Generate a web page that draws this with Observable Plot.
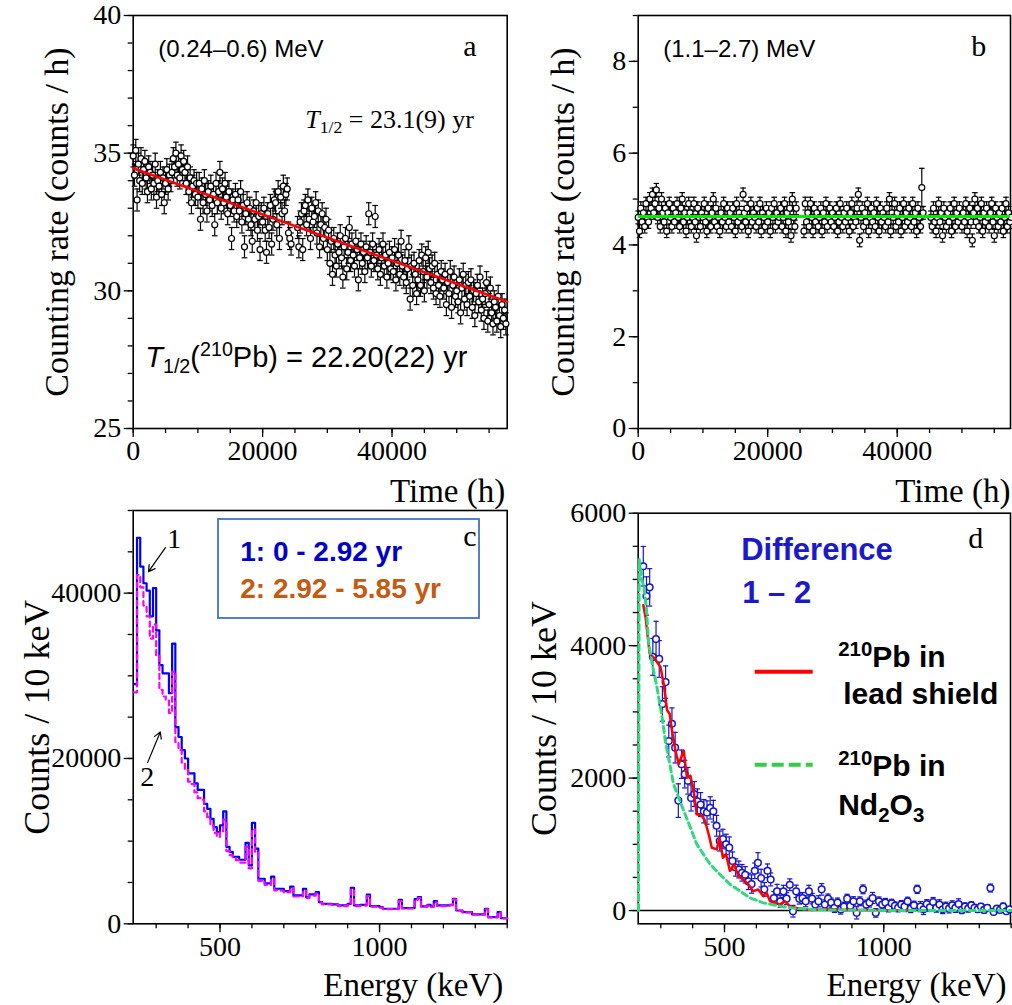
<!DOCTYPE html>
<html><head><meta charset="utf-8">
<script src="https://cdn.jsdelivr.net/npm/d3@7"></script>
<script src="https://cdn.jsdelivr.net/npm/@observablehq/plot@0.6"></script>
<style>
html,body{margin:0;padding:0;background:#fff;}
#fig{position:relative;width:1012px;height:1005px;overflow:hidden;background:#fff;}
</style></head><body><div id="fig"></div>
<script>
// ---------------- DATA ----------------
// Panel a: counting rate (0.24–0.6 MeV), 200 h bins
const aTimeStep = 200;
const aRate = [
34.9,34.2,35.1,33.3,34.6,34.0,34.8,33.9,34.4,34.7,
34.1,33.6,34.5,34.3,33.7,34.2,33.9,34.6,33.4,34.0,
33.8,34.3,33.5,34.1,33.2,33.9,34.4,33.7,34.2,34.0,
34.3,34.8,34.5,35.0,34.2,34.6,34.1,34.9,34.4,34.7,
34.3,33.9,34.5,33.6,34.1,33.2,33.8,34.0,33.5,33.9,
33.4,33.9,32.6,33.7,33.2,34.0,33.5,32.9,33.6,33.3,
33.8,33.1,33.5,32.4,33.9,33.2,33.6,34.3,33.0,33.7,
33.2,33.9,33.4,32.8,33.6,33.1,31.9,33.3,32.9,33.5,
32.7,33.3,32.9,33.6,32.5,33.1,31.6,32.8,33.2,32.6,
33.0,32.4,31.8,32.9,32.6,33.2,32.2,32.7,31.5,32.8,
32.5,33.0,32.2,31.4,32.8,32.3,33.1,31.7,32.6,33.3,
33.2,32.4,33.6,31.9,33.4,32.8,33.8,32.9,33.5,33.7,
32.1,31.9,31.7,null,null,null,null,32.3,31.6,32.5,
32.8,31.5,32.9,33.1,32.4,33.3,32.6,31.9,33.0,32.5,
32.7,33.2,32.1,32.9,31.6,32.4,32.8,31.9,32.3,32.6,
31.5,32.2,31.0,31.8,30.6,31.9,31.3,30.9,31.7,31.4,
32.0,31.2,30.5,31.6,31.9,30.8,31.4,32.3,31.1,31.7,
31.3,30.9,31.8,31.5,30.4,31.2,31.7,31.0,31.4,30.7,
31.6,31.2,32.8,31.4,30.9,31.7,31.1,32.7,31.3,30.8,
31.5,30.6,31.2,31.7,30.9,31.3,30.5,31.0,31.4,30.8,
31.2,30.7,31.5,30.4,31.0,31.3,30.6,31.8,30.9,30.5,
31.1,30.3,30.8,31.6,29.7,30.9,30.2,31.0,30.6,29.9,
30.4,31.1,30.2,31.3,30.7,30.0,31.2,30.5,31.4,30.8,
30.3,30.9,30.1,31.0,29.9,30.6,30.2,29.8,30.7,30.4,
30.1,30.6,29.5,30.3,29.9,30.7,29.4,30.2,30.5,29.8,
30.0,29.6,30.4,29.2,30.1,30.6,29.7,30.2,29.5,30.3,
29.8,30.4,29.4,30.0,29.1,29.9,30.2,29.6,30.5,29.3,
29.7,29.0,29.9,30.3,28.9,29.5,30.1,29.2,28.8,29.6,
29.4,28.9,29.8,29.1,28.7,29.5,29.0,29.3,28.8
];
const aError = 0.4;
const aFit = [[0, 34.45], [57800, 29.6]];

// Panel b: counting rate (1.1–2.7 MeV), 200 h bins
const bTimeStep = 200;
const bRate = [
4.6,4.3,4.8,4.5,4.7,4.4,4.9,4.6,4.5,5.0,
4.8,5.1,4.7,4.9,5.2,4.6,4.8,4.4,5.0,4.7,
4.5,4.8,4.3,4.7,4.9,4.6,4.4,4.8,4.5,4.7,
4.9,4.6,4.4,4.8,5.0,4.5,4.7,4.3,4.6,4.9,
4.7,4.4,4.6,4.9,4.5,4.2,4.8,4.6,4.4,4.7,
4.6,4.9,4.5,4.3,4.8,4.6,4.4,4.7,5.0,4.5,
4.8,4.4,4.6,4.3,4.7,4.5,4.9,4.6,4.4,4.8,
4.5,4.7,4.4,4.8,4.6,4.3,4.9,4.5,4.7,4.6,
4.4,5.1,4.7,4.5,4.8,4.3,4.6,4.9,4.5,4.7,
4.6,4.4,4.8,4.5,4.9,4.3,4.7,4.6,4.4,4.8,
4.5,4.7,4.3,4.8,4.6,4.9,4.4,4.7,4.5,4.6,
4.8,4.4,4.6,4.9,4.3,4.7,4.5,4.8,4.2,5.0,
4.6,4.4,4.8,null,null,null,null,null,4.3,4.9,
4.5,4.7,4.4,4.9,4.6,4.3,4.8,4.5,4.7,4.4,
4.6,4.8,4.3,4.7,4.5,4.9,4.4,4.6,4.8,4.5,
4.7,4.4,4.6,4.8,4.3,4.5,4.9,4.6,4.4,4.7,
4.5,4.8,4.6,4.3,4.7,4.9,4.4,4.6,4.5,4.8,
5.1,4.1,4.6,4.8,4.4,4.7,4.5,4.9,4.3,4.6,
4.8,4.5,4.7,4.4,4.9,4.6,4.3,4.8,4.5,4.7,
4.6,4.4,4.8,4.5,5.0,4.3,4.7,4.6,4.9,4.4,
4.7,4.5,4.8,4.3,4.6,4.9,4.4,4.7,4.5,4.8,
4.6,4.4,4.9,4.5,4.7,4.3,4.8,4.6,4.4,null,
4.7,null,null,null,null,null,4.6,4.4,4.8,4.5,
4.3,4.6,4.9,4.5,4.7,4.2,4.8,4.6,4.4,4.7,
4.5,4.8,4.3,4.6,4.9,4.4,4.7,4.5,4.8,4.6,
4.4,4.7,4.5,4.9,4.3,4.6,4.8,4.5,4.1,4.7,
5.0,4.5,4.8,4.4,4.6,4.9,4.3,4.7,4.5,4.8,
4.6,4.4,4.7,4.9,4.5,4.2,4.8,4.6,4.4,4.7,
4.5,4.8,4.3,4.6,4.9,4.4,4.7,4.5,4.6
];
const bError = 0.14;
const bOutlier = [{t: 43800, v: 5.25, e: 0.42}];
const bFit = 4.62;

// Panel c: spectra, 10 keV bins starting at 230 keV
const cBinStart = 230, cBinWidth = 10;
const spec1 = [ // 0 - 2.92 yr
29000,46700,43200,41200,40300,37200,40600,35500,31300,30300,
30300,27900,33900,23800,22600,21000,20000,18200,18200,17000,
16200,16200,14500,13900,12700,11700,11100,11900,13600,9300,
8700,8100,8100,7750,7750,9800,7070,12200,9100,5450,
5450,4900,4900,5700,4240,4240,4240,3950,3950,4500,
3430,3430,3430,4240,3200,3550,3550,3840,2620,2420,
2420,2420,2350,2350,2220,2220,2220,2420,4360,2220,
2220,2280,2280,3520,2140,2140,2140,2010,1820,1820,
1820,1820,1820,2910,1900,1900,1900,1900,3000,3230,
2100,2100,2300,2100,2740,2220,2220,2220,2220,2300,
3030,1610,1610,1410,1410,1410,1130,1130,1130,1130,
1820,800,800,800,1410,680,680
];
const spec2 = [ // 2.92 - 5.85 yr
28000,42200,40700,38500,37200,34500,36200,32500,28300,27500,
27000,25500,30500,22000,21000,19500,18600,17200,16900,15900,
15200,15000,13600,12900,11900,11000,10500,11200,12600,8800,
8300,8000,7700,7400,7400,9300,6700,11400,8700,5200,
5200,4700,4700,5400,4050,4050,4000,3800,3800,4300,
3300,3300,3300,4000,3100,3400,3400,3650,2550,2350,
2350,2350,2300,2300,2150,2150,2150,2300,4150,2150,
2150,2200,2200,3350,2080,2080,2080,1950,1780,1780,
1780,1780,1780,2750,1850,1850,1850,1850,2900,3100,
2050,2050,2200,2050,2600,2150,2150,2150,2150,2250,
2950,1580,1580,1380,1380,1380,1100,1100,1100,1100,
1750,780,780,780,1350,660,660
];
const cArrows = [
  {x1: 329, y1: 45500, x2: 276, y2: 42600},
  {x1: 273, y1: 19500, x2: 313, y2: 23200}
];

// Panel d: difference spectrum 1 - 2 (same bins as panel c)
const diff = [
null,5200,4750,4880,3830,4100,3800,3120,3450,2560,
2820,2460,1660,2210,2060,1960,1700,1760,1650,1600,
1500,1480,1550,1500,1280,1050,1080,1000,950,750,
650,620,570,540,440,400,600,720,490,320,
600,470,190,290,140,290,180,390,-10,290,
180,190,140,290,180,90,140,320,90,180,
120,40,120,15,60,180,70,140,-35,140,
320,90,120,190,-35,140,90,120,40,110,
70,40,90,60,140,30,80,320,60,20,
100,50,130,40,90,20,60,30,80,40,
100,10,60,30,80,40,20,60,10,40,
340,-20,30,10,60,-10,20
];
// 210Pb in lead shield (simulated), [keV, counts]
const leadE = [245,252,265,276,288,299,309,320,328,335,346,356,366,372,382,393,403,413,429,439,453,460,476,484,495,505,517,530,544,559,575,590,606,622,632,643,658,674,689,705,726,747,773,830,882,934,1090];
const leadV = [4610,4434,3879,3828,3752,3677,3424,3020,2970,2717,2414,2212,2338,2414,2010,2035,1808,1454,1429,1353,1101,949,924,1101,798,848,596,697,520,470,394,293,318,217,268,141,116,91,141,66,40,25,10,25,10,10,0];
// 210Pb in Nd2O3 (simulated), [keV, counts]
const ndE = [230,232,240,247,255,262,273,288,304,314,328,340,356,372,393,413,434,455,486,518,549,580,622,674,726,778,882,1000,1400];
const ndV = [0,5300,5000,4890,4540,4030,3720,3370,2920,2570,2212,1909,1706,1505,1252,1000,848,697,545,394,293,191,116,66,30,15,5,2,0];

// ---------------- HELPERS ----------------
const SERIF = "'Liberation Serif','Times New Roman',serif";
const SANS = "'Liberation Sans',Arial,sans-serif";
const fig = document.getElementById("fig");
const capSym = {draw(ctx, size) { const r = Math.sqrt(size / Math.PI); ctx.moveTo(-r, 0); ctx.lineTo(r, 0); }};

function errBars(data, {x, y, e, color, capR = 2.8, sw = 1.2}) {
  return [
    Plot.ruleX(data, {x, y1: d => d[y] - e(d), y2: d => d[y] + e(d), stroke: color, strokeWidth: sw}),
    Plot.dot(data, {x, y: d => d[y] + e(d), symbol: capSym, r: capR, stroke: color, strokeWidth: sw, fill: "none"}),
    Plot.dot(data, {x, y: d => d[y] - e(d), symbol: capSym, r: capR, stroke: color, strokeWidth: sw, fill: "none"})
  ];
}
function axes({xMajor, xMinor, yMajor, yMinor}) {
  const fmt = d3.format("d");
  const common = {label: null, strokeWidth: 1.3, fontSize: 28, fontFamily: SERIF, fill: "black"};
  return [
    Plot.axisX({...common, ticks: xMinor, tickSize: 5, tickFormat: () => ""}),
    Plot.axisX({...common, ticks: xMajor, tickSize: 9, tickPadding: 3, tickFormat: fmt}),
    Plot.axisY({...common, ticks: yMinor, tickSize: 5, tickFormat: () => ""}),
    Plot.axisY({...common, ticks: yMajor, tickSize: 9, tickPadding: 3, tickFormat: fmt}),
    Plot.frame({stroke: "black", strokeWidth: 1.6})
  ];
}
function note(str, {anchor = "top-left", dx = 0, dy = 0, size = 22, family = SANS, weight = "normal", fill = "black", align = "start", rotate = 0, line = "bottom"} = {}) {
  return Plot.text([str], {text: d => d, frameAnchor: anchor, dx, dy, fontSize: size, fontFamily: family,
    fontWeight: weight, fill, textAnchor: align, lineAnchor: line, rotate});
}
function pxMark(draw) {
  return (index, scales, values, dims) => {
    const g = document.createElementNS("http://www.w3.org/2000/svg", "g");
    draw(g, dims.marginLeft, dims.marginTop);
    return g;
  };
}
function svgEl(g, tag, attrs) {
  const el = document.createElementNS("http://www.w3.org/2000/svg", tag);
  for (const k in attrs) el.setAttribute(k, attrs[k]);
  g.appendChild(el);
  return el;
}
function richText(svg) {
  const NS = "http://www.w3.org/2000/svg";
  svg.querySelectorAll("text").forEach(el => {
    const s = el.textContent;
    if (!/\^\{|_\{|\*/.test(s)) return;
    const parts = s.split(/(\^\{[^}]*\}|_\{[^}]*\}|\*[^*]+\*)/).filter(p => p !== "");
    while (el.firstChild) el.removeChild(el.firstChild);
    let cur = 0;
    for (const p of parts) {
      const t = document.createElementNS(NS, "tspan");
      let target = 0, scale = 1, str = p;
      if (p.startsWith("^{")) { target = -0.36; scale = 0.68; str = p.slice(2, -1); }
      else if (p.startsWith("_{")) { target = 0.22; scale = 0.68; str = p.slice(2, -1); }
      else if (p.startsWith("*")) { str = p.slice(1, -1); t.setAttribute("font-style", "italic"); }
      if (scale !== 1) t.setAttribute("font-size", (scale * 100) + "%");
      const dy = (target - cur) / scale;
      if (dy !== 0) t.setAttribute("dy", dy.toFixed(3) + "em");
      cur = target;
      t.textContent = str;
      el.appendChild(t);
    }
  });
}
function mount(svg, left, top) {
  svg.style.position = "absolute";
  svg.style.left = left + "px";
  svg.style.top = top + "px";
  svg.style.overflow = "visible";
  svg.style.background = "transparent";
  richText(svg);
  fig.appendChild(svg);
}

// ---------------- DERIVED TABLES ----------------
const aData = aRate.map((v, i) => ({t: i * aTimeStep, v})).filter(d => d.v != null);
const bData = bRate.map((v, i) => ({t: i * bTimeStep, v})).filter(d => d.v != null);
const cEdges = spec1.map((_, i) => cBinStart + i * cBinWidth);
const hist = (arr) => arr.map((v, i) => ({E: cEdges[i], v})).concat([{E: cEdges[cEdges.length - 1] + cBinWidth, v: arr[arr.length - 1]}]);
const c1 = hist(spec1), c2 = hist(spec2);
const dData = diff.map((v, i) => ({E: cEdges[i] + cBinWidth / 2, v, e: Math.sqrt(spec1[i] + spec2[i])})).filter(d => d.v != null);
const leadData = leadE.map((E, i) => ({E, v: leadV[i]}));
const ndData = ndE.map((E, i) => ({E, v: ndV[i]}));

const timeTicks = {xMajor: [0, 20000, 40000], xMinor: d3.range(0, 57801, 5000)};
const energyTicks = {xMajor: [500, 1000], xMinor: d3.range(300, 1401, 100)};

// ---------------- PANEL a ----------------
mount(Plot.plot({
  width: 512, height: 500, marginLeft: 132.7, marginRight: 5.3, marginTop: 15, marginBottom: 72,
  x: {domain: [0, 57800]}, y: {domain: [25, 40]},
  marks: [
    ...axes({...timeTicks, yMajor: [25, 30, 35, 40], yMinor: d3.range(25, 40.1, 1)}),
    ...errBars(aData, {x: "t", y: "v", e: () => aError, color: "black"}),
    Plot.dot(aData, {x: "t", y: "v", r: 3, stroke: "black", fill: "white", strokeWidth: 1.2}),
    Plot.line(aFit, {x: d => d[0], y: d => d[1], stroke: "#ff0000", strokeWidth: 2.6}),
    note("(0.24–0.6) MeV", {dx: 25, dy: 41, size: 24}),
    note("a", {dx: 330, dy: 40, size: 30, family: SERIF}),
    note("*T*_{1/2} = 23.1(9) yr", {dx: 172, dy: 112, size: 26, family: SERIF}),
    note("*T*_{1/2}(^{210}Pb) = 22.20(22) yr", {dx: 12, dy: 351, size: 29}),
    note("Time (h)", {anchor: "bottom-right", dx: -2, dy: 73, size: 33, family: SERIF, align: "end"}),
    note("Counting rate (counts / h)", {anchor: "left", dx: -76, size: 34, family: SERIF, align: "middle", line: "middle", rotate: -90})
  ]
}), 0, 0);

// ---------------- PANEL b ----------------
mount(Plot.plot({
  width: 500, height: 500, marginLeft: 125.7, marginRight: 2, marginTop: 15, marginBottom: 72,
  x: {domain: [0, 57500]}, y: {domain: [0, 9]},
  marks: [
    ...axes({...timeTicks, yMajor: [0, 2, 4, 6, 8], yMinor: d3.range(0, 9.1, 1)}),
    ...errBars(bData, {x: "t", y: "v", e: () => bError, color: "black"}),
    ...errBars(bOutlier, {x: "t", y: "v", e: d => d.e, color: "black"}),
    Plot.dot(bData.concat(bOutlier), {x: "t", y: "v", r: 3, stroke: "black", fill: "white", strokeWidth: 1.2}),
    Plot.ruleY([bFit], {stroke: "#00ee00", strokeWidth: 3}),
    note("(1.1–2.7) MeV", {dx: 25, dy: 41, size: 24}),
    note("b", {dx: 333, dy: 40, size: 30, family: SERIF}),
    note("Time (h)", {anchor: "bottom-right", dx: 0, dy: 73, size: 33, family: SERIF, align: "end"}),
    note("Counting rate (counts / h)", {anchor: "left", dx: -75, size: 34, family: SERIF, align: "middle", line: "middle", rotate: -90})
  ]
}), 512, 0);

// ---------------- PANEL c ----------------
mount(Plot.plot({
  width: 512, height: 505, marginLeft: 132.7, marginRight: 5.3, marginTop: 10, marginBottom: 81.7,
  x: {domain: [228, 1400]}, y: {domain: [0, 50000]},
  marks: [
    ...axes({...energyTicks, yMajor: [0, 20000, 40000], yMinor: d3.range(0, 50001, 5000)}),
    Plot.line(c1, {x: "E", y: "v", curve: "step-after", stroke: "#0000ff", strokeWidth: 2.2}),
    Plot.line(c2, {x: "E", y: "v", curve: "step-after", stroke: "#ff00ff", strokeWidth: 2.2, strokeDasharray: "5,4"}),
    Plot.arrow(cArrows, {x1: "x1", y1: "y1", x2: "x2", y2: "y2", stroke: "black", strokeWidth: 1.2, headLength: 9}),
    note("1", {dx: 34, dy: 37, size: 28, family: SERIF}),
    note("2", {dx: 7, dy: 275, size: 28, family: SERIF}),
    pxMark((g, L, T) => svgEl(g, "rect", {x: L + 85.3, y: T + 9, width: 261, height: 99, fill: "none", stroke: "#4472c4", "stroke-width": 1.8})),
    note("1: 0 - 2.92 yr", {dx: 107, dy: 50, size: 28, weight: "bold", fill: "#0000cc"}),
    note("2: 2.92 - 5.85 yr", {dx: 107, dy: 87, size: 28, weight: "bold", fill: "#c55a11"}),
    note("c", {dx: 330, dy: 35, size: 30, family: SERIF}),
    note("Energy (keV)", {anchor: "bottom-right", dx: -4, dy: 72, size: 33, family: SERIF, align: "end"}),
    note("Counts / 10 keV", {anchor: "left", dx: -96, size: 36, family: SERIF, align: "middle", line: "middle", rotate: -90})
  ]
}), 0, 500);

// ---------------- PANEL d ----------------
mount(Plot.plot({
  width: 500, height: 505, marginLeft: 125.7, marginRight: 2, marginTop: 12.7, marginBottom: 81.7,
  x: {domain: [229, 1398]}, y: {domain: [-200, 6000]},
  marks: [
    ...axes({...energyTicks, yMajor: [0, 2000, 4000, 6000], yMinor: d3.range(0, 6001, 500)}),
    Plot.ruleY([0], {stroke: "black", strokeWidth: 1.5}),
    ...errBars(dData, {x: "E", y: "v", e: d => d.e, color: "#1515cc", capR: 2.6}),
    Plot.dot(dData, {x: "E", y: "v", r: 3.3, stroke: "#1515cc", fill: "white", strokeWidth: 1.5}),
    Plot.line(leadData, {x: "E", y: "v", stroke: "#ff0000", strokeWidth: 2.5}),
    Plot.line(ndData, {x: "E", y: "v", stroke: "#30d880", strokeWidth: 3, strokeDasharray: "6,4"}),
    note("Difference", {dx: 103, dy: 47, size: 31, weight: "bold", fill: "#1a1acc"}),
    note("1 – 2", {dx: 104, dy: 90, size: 31, weight: "bold", fill: "#1a1acc"}),
    note("d", {dx: 330, dy: 35, size: 30, family: SERIF}),
    pxMark((g, L, T) => {
      svgEl(g, "line", {x1: L + 117, x2: L + 175, y1: T + 159, y2: T + 159, stroke: "#ff0000", "stroke-width": 4});
      svgEl(g, "line", {x1: L + 117, x2: L + 175, y1: T + 252, y2: T + 252, stroke: "#33cc44", "stroke-width": 4, "stroke-dasharray": "12,5"});
    }),
    note("^{210}Pb in", {dx: 200, dy: 154, size: 30, weight: "bold"}),
    note("lead shield", {dx: 205, dy: 191, size: 30, weight: "bold"}),
    note("^{210}Pb in", {dx: 200, dy: 263, size: 30, weight: "bold"}),
    note("Nd_{2}O_{3}", {dx: 200, dy: 302, size: 30, weight: "bold"}),
    note("Energy (keV)", {anchor: "bottom-right", dx: -4, dy: 72, size: 33, family: SERIF, align: "end"}),
    note("Counts / 10 keV", {anchor: "left", dx: -94, size: 36, family: SERIF, align: "middle", line: "middle", rotate: -90})
  ]
}), 512, 500);
</script></body></html>
